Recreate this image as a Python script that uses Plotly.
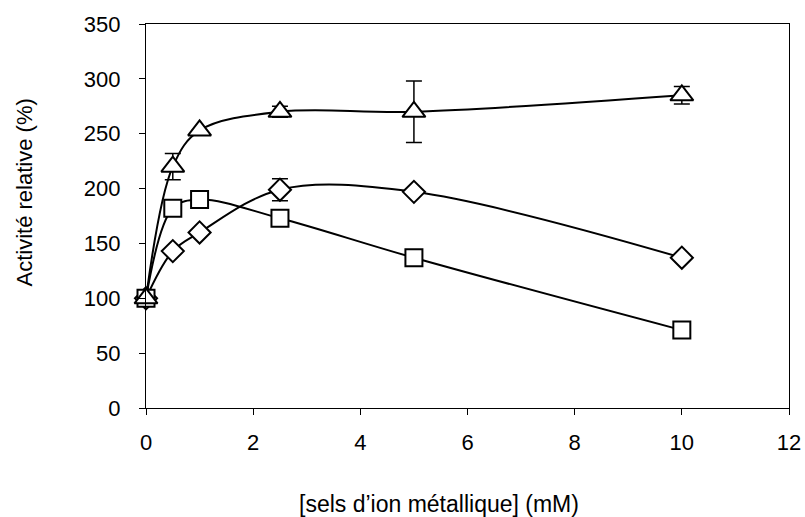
import plotly.graph_objects as go

x = [0, 0.5, 1, 2.5, 5, 10]
triangle = [100, 220, 253, 270, 270, 285]
triangle_err = [0, 12, 0, 5, 28, 8]
square = [100, 182, 190, 173, 137, 71]
diamond = [100, 143, 160, 199, 197, 137]
diamond_err = [0, 0, 0, 10, 0, 0]

x_ticks = [0, 2, 4, 6, 8, 10, 12]
y_ticks = [0, 50, 100, 150, 200, 250, 300, 350]

FONT = "Liberation Sans, Arial, sans-serif"

fig = go.Figure()

def add(series, symbol, size, err=None):
    fig.add_trace(go.Scatter(
        x=x, y=series, mode="lines+markers",
        line=dict(color="black", width=2, shape="spline", smoothing=1.0),
        marker=dict(symbol=symbol, size=size, color="white",
                    line=dict(color="black", width=2)),
        error_y=(dict(type="data", array=err, visible=True, color="black",
                      thickness=1.5, width=8) if err is not None else None),
        showlegend=False, cliponaxis=False,
    ))

add(diamond, "diamond", 17, diamond_err)
add(square, "square", 17)
add(triangle, "triangle-up", 20, triangle_err)

axis_common = dict(showline=True, linecolor="black", linewidth=1.2, mirror=True,
                   ticks="outside", ticklen=6, tickcolor="black",
                   showgrid=False, zeroline=False, automargin=False,
                   tickfont=dict(family=FONT, size=22, color="black"))

fig.update_xaxes(range=[0, 12], tickvals=x_ticks, ticklabelstandoff=8, **axis_common)
fig.update_yaxes(range=[0, 350], tickvals=y_ticks, ticklabelstandoff=14, **axis_common)

L, R, T, B = 146, 16, 24, 109
W, H = 805, 517
pw, ph = W - L - R, H - T - B

fig.update_layout(
    width=W, height=H, autosize=False,
    margin=dict(l=L, r=R, t=T, b=B, autoexpand=False),
    plot_bgcolor="white", paper_bgcolor="white",
    font=dict(family=FONT, color="black"),
    hovermode=False,
    annotations=[
        dict(text="Activité relative (%)", xref="paper", yref="paper",
             x=(24 - L) / pw, y=1 - (192.5 - T) / ph, xanchor="center", yanchor="middle",
             textangle=-90, showarrow=False,
             font=dict(family=FONT, size=22, color="black")),
        dict(text="[sels d’ion métallique] (mM)", xref="paper", yref="paper",
             x=(438.5 - L) / pw, y=-(504 - (T + ph)) / ph, xanchor="center", yanchor="middle",
             showarrow=False,
             font=dict(family=FONT, size=23, color="black")),
    ],
)

fig.write_html("out.html",
               config={"displayModeBar": False, "staticPlot": True},
               post_script="document.body.style.margin='0';document.body.style.overflow='hidden';")
